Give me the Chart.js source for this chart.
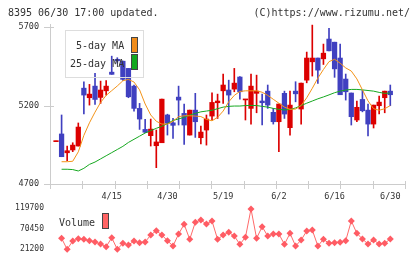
<!DOCTYPE html>
<html><head><meta charset="utf-8">
<script src="https://cdn.jsdelivr.net/npm/chart.js@4.4.0/dist/chart.umd.min.js"></script>
<style>
html,body{margin:0;padding:0;background:#fff;width:420px;height:259px;overflow:hidden;}
#wrap{position:relative;width:420px;height:259px;}
canvas{position:absolute;left:0;}
.t{position:absolute;font-family:"DejaVu Sans Mono",monospace;font-size:10px;line-height:10px;color:#333;white-space:nowrap;}
.box{position:absolute;box-sizing:border-box;}
</style></head><body>
<div id="wrap">
<canvas id="main" width="420" height="205" style="top:0"></canvas>
<canvas id="vol" width="420" height="59" style="top:200px"></canvas>
<div class="t" style="left:8px;top:8px">8395 06/30 17:00 updated.</div>
<div class="t" style="right:10px;top:8px">(C)https://www.rizumu.net/</div>
<div class="box" style="left:65px;top:30px;width:79px;height:48px;border:1px solid #ddd"></div>
<div class="t" style="left:76px;top:41px">5-day MA</div>
<div class="t" style="left:70px;top:58.5px">25-day MA</div>
<div class="box" style="left:131px;top:37px;width:7px;height:16px;border:1px solid #444;background:#f08c1a"></div>
<div class="box" style="left:131px;top:54px;width:7px;height:16px;border:1px solid #444;background:#12a81e"></div>
<div class="t" style="left:59px;top:217.5px">Volume</div>
<div class="box" style="left:102px;top:213px;width:7px;height:16px;border:1px solid #444;background:#ff6464"></div>
</div>
<script>
// ---- data ----
const labelIdx  = [10, 20, 30, 40, 50, 60];
const labelText = ['4/15', '4/30', '5/19', '6/2', '6/16', '6/30'];
const priceTicks  = [4700, 5200, 5700];
const volumeTicks = [21200, 70450, 119700];

const opens  = [4970,5019,4899,4917,4942,5311,5250,5324,5252,5294,5413,5495,5483,5437,5324,5182,5048,5008,4944,4963,
                5140,5090,5254,5150,5012,5171,4995,5044,5133,5218,5294,5299,5305,5382,5236,5182,5278,5229,5292,5157,
                5097,5278,5059,5292,5178,5362,5479,5503,5498,5624,5604,5503,5369,5280,5108,5239,5171,5082,5199,5250,5292];
const highs  = [4974,5140,4942,4963,5089,5352,5335,5405,5356,5360,5515,5505,5483,5437,5330,5214,5112,5114,5044,5241,
                5145,5118,5324,5210,5171,5278,5069,5140,5282,5273,5401,5362,5437,5385,5240,5401,5394,5273,5331,5182,
                5210,5292,5292,5352,5343,5541,5713,5503,5592,5692,5604,5592,5401,5280,5229,5297,5210,5203,5261,5292,5331];
const lows   = [4970,4874,4848,4906,4942,5146,5203,5208,5214,5267,5399,5470,5360,5250,5165,5048,5027,4942,4804,4963,
                5012,4991,5076,4953,5012,4997,4955,4948,5108,5118,5214,5146,5288,5241,5108,5082,5154,5076,5182,5082,
                4906,5118,5012,5224,5082,5345,5388,5341,5462,5549,5380,5269,5235,5076,5097,5160,5006,5057,5146,5154,5199];
const closes = [4974,4874,4912,4948,5063,5267,5273,5239,5299,5324,5399,5485,5367,5256,5182,5114,5030,5050,4968,5241,
                5087,5074,5235,5076,5171,5097,5031,5114,5220,5229,5331,5267,5343,5288,5240,5324,5292,5218,5203,5097,
                5210,5146,5203,5275,5343,5503,5503,5426,5534,5549,5434,5269,5288,5129,5189,5167,5082,5203,5222,5292,5269];
const ma5    = [null,4842,4842,4845,4905,5010,5090,5158,5220,5265,5295,5325,5358,5367,5350,5300,5210,5140,5100,5082,
                5082,5100,5129,5135,5135,5133,5130,5112,5103,5125,5165,5224,5265,5290,5294,5294,5294,5285,5265,5240,
                5215,5190,5176,5178,5200,5250,5310,5375,5430,5480,5495,5470,5440,5420,5370,5300,5230,5180,5170,5180,5200];
const ma25   = [null,4794,4794,4792,4783,4800,4825,4840,4860,4880,4900,4920,4940,4965,4985,5005,5025,5040,5055,5068,
                5085,5105,5115,5125,5140,5150,5160,5165,5170,5180,5190,5195,5197,5197,5200,5201,5200,5195,5190,5182,
                5176,5172,5175,5185,5200,5215,5229,5243,5255,5268,5282,5292,5299,5303,5303,5300,5296,5292,5284,5278,5280];
const volume = [null,46900,20400,40420,45940,44500,41140,38010,33210,26730,48340,20400,34890,30810,40420,36330,38010,54830,65160,54830,
                41140,28410,57230,80530,44500,85340,90860,81250,88460,44500,54830,61310,52430,32490,49300,117300,46900,74760,52430,57230,
                57230,32490,58910,28410,42820,64440,66840,28410,44500,34890,36330,37290,41140,88460,58910,45220,33210,42820,33210,34890,45220];

// ---- presentation ----
const XMIN = -1.08, XMAX = 62.64;
const UP = '#dc0000', DOWN = '#4040c0';
const FONT = {family: '"DejaVu Sans Mono", monospace', size: 8.5};
const TXT = '#333';

const candleColor = i => (closes[i] >= opens[i] ? UP : DOWN);
const idx = opens.map((_, i) => i);
const noPad = s => { s.paddingTop = 0; s.paddingBottom = 0; s.paddingLeft = 0; s.paddingRight = 0; };

const tickPlugin = {
  id: 'tickmarks',
  beforeDatasetsDraw(chart) {
    const {ctx, scales: {x, y}} = chart;
    ctx.save();
    ctx.strokeStyle = '#cccccc';
    ctx.lineWidth = 1;
    ctx.beginPath();
    const n = 11;
    for (let k = 0; k <= n; k++) {
      const v = XMIN + (XMAX - XMIN) * k / n;
      const px = Math.round(x.getPixelForValue(v)) + 0.5;
      ctx.moveTo(px, y.bottom - 3);
      ctx.lineTo(px, y.bottom + 5);
    }
    priceTicks.forEach(v => {
      const py = Math.round(y.getPixelForValue(v)) + 0.5;
      ctx.moveTo(x.left - 6, py);
      ctx.lineTo(x.left + 4, py);
    });
    ctx.stroke();
    ctx.restore();
  }
};

new Chart(document.getElementById('main'), {
  type: 'bar',
  data: {
    datasets: [
      {type: 'line', data: idx.map(i => ({x: i, y: ma5[i]})), borderColor: '#f39318', borderWidth: 1,
       pointRadius: 0, tension: 0, spanGaps: false, order: 1},
      {type: 'line', data: idx.map(i => ({x: i, y: ma25[i]})), borderColor: '#16a820', borderWidth: 1,
       pointRadius: 0, tension: 0, spanGaps: false, order: 1},
      {type: 'bar', data: idx.map(i => ({x: i, y: [opens[i], closes[i]]})), backgroundColor: idx.map(candleColor),
       barThickness: 4.6, minBarLength: 1, grouped: false, borderWidth: 0, order: 2},
      {type: 'bar', data: idx.map(i => ({x: i, y: [lows[i], highs[i]]})), backgroundColor: idx.map(candleColor),
       barThickness: 1, grouped: false, borderWidth: 0, order: 3}
    ]
  },
  options: {
    responsive: false, animation: false, devicePixelRatio: 1,
    layout: {padding: {top: 24, right: 15, left: 0, bottom: 0}},
    plugins: {legend: {display: false}, tooltip: {enabled: false}},
    scales: {
      x: {
        type: 'linear', min: XMIN, max: XMAX, offset: false,
        afterBuildTicks: s => { s.ticks = labelIdx.map(v => ({value: v})); },
        ticks: {autoSkip: false, maxRotation: 0, padding: 8, font: FONT, color: TXT,
                callback: v => { const k = labelIdx.indexOf(v); return k >= 0 ? labelText[k] : ''; }},
        grid: {display: false, drawTicks: false, offset: false},
        border: {display: true, color: '#cccccc'},
        afterFit: s => { s.height = 21; noPad(s); }
      },
      y: {
        min: 4700, max: 5720,
        afterBuildTicks: s => { s.ticks = priceTicks.map(v => ({value: v})); },
        ticks: {padding: 11, font: FONT, color: TXT, callback: v => String(v)},
        grid: {display: false, drawTicks: false},
        border: {display: true, color: '#cccccc'},
        afterFit: s => { s.width = 50; noPad(s); }
      }
    }
  },
  plugins: [tickPlugin]
});

new Chart(document.getElementById('vol'), {
  type: 'line',
  data: {
    datasets: [{
      data: idx.map(i => ({x: i, y: volume[i]})),
      borderColor: '#ff6a6a', borderWidth: 1, tension: 0,
      pointStyle: 'rectRot', pointRadius: 3.5, pointBackgroundColor: '#ff5c64', pointBorderWidth: 0
    }]
  },
  options: {
    responsive: false, animation: false, devicePixelRatio: 1,
    layout: {padding: {top: 4, right: 15, left: 0, bottom: 5}},
    plugins: {legend: {display: false}, tooltip: {enabled: false}},
    scales: {
      x: {type: 'linear', min: XMIN, max: XMAX, display: false, offset: false},
      y: {
        min: 9188, max: 129310,
        afterBuildTicks: s => { s.ticks = volumeTicks.map(v => ({value: v})); },
        ticks: {padding: 6, font: {family: '"DejaVu Sans Mono", monospace', size: 8}, color: TXT, callback: v => String(v)},
        grid: {display: false, drawTicks: false},
        border: {display: false},
        afterFit: s => { s.width = 50; noPad(s); }
      }
    }
  }
});
</script>
</body></html>
